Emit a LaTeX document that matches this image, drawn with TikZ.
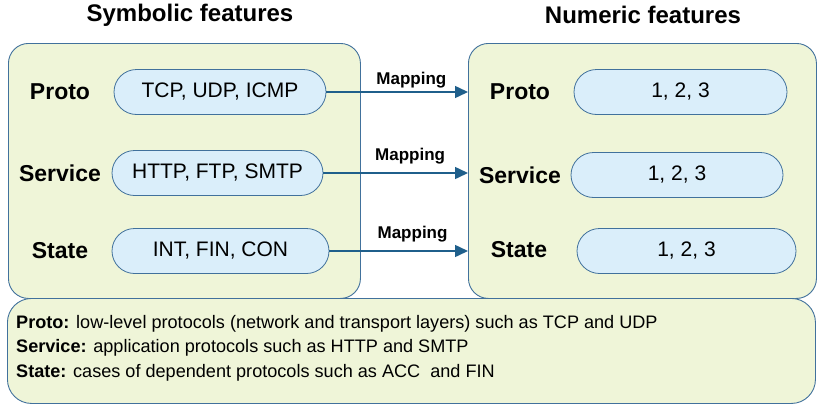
\documentclass[tikz,border=0pt]{standalone}
\usepackage{fontspec}
\setmainfont{Liberation Sans}
\usetikzlibrary{arrows.meta,positioning}
\definecolor{boxfill}{HTML}{EFF5D8}
\definecolor{boxline}{HTML}{41719C}
\definecolor{pillfill}{HTML}{DAEEFA}
\definecolor{arrowcol}{HTML}{1F5F8B}
\tikzset{
  bigbox/.style={draw=boxline, fill=boxfill, line width=0.9pt, rounded corners=20pt},
  pill/.style={draw=boxline, fill=pillfill, line width=0.8pt, rounded corners=22.5pt,
     minimum height=45pt, inner sep=0pt, font=\fontsize{21}{25}\selectfont},
  rowlabel/.style={inner sep=0pt, font=\fontsize{23}{27}\selectfont\bfseries},
  title/.style={inner sep=0pt, font=\fontsize{24}{28}\selectfont\bfseries},
  maplabel/.style={inner sep=0pt, font=\fontsize{17}{20}\selectfont\bfseries},
  maparrow/.style={draw=arrowcol, line width=1.5pt, -{Triangle[length=13pt,width=12pt]}},
}
\begin{document}
\begin{tikzpicture}[x=1pt,y=-1pt]
\useasboundingbox (0,0) rectangle (817,407);
% big boxes
\node[bigbox, minimum width=352pt, minimum height=255pt, anchor=north west] (lbox) at (8,43) {};
\node[bigbox, minimum width=348pt, minimum height=255pt, anchor=north west] (rbox) at (468,43) {};
\node[bigbox, rounded corners=24pt, minimum width=808pt, minimum height=105pt, anchor=north west] (bbox) at (7,298) {};
% titles
\node[title] (tl) at (190,15) {Symbolic features};
\node[title] (tr) at (643,15) {Numeric features};
% left labels
\node[rowlabel] (lproto) at (60,92) {Proto};
\node[rowlabel] (lserv) at (60,173) {Service};
\node[rowlabel] (lstate) at (60,251) {State};
% left pills
\node[pill, minimum width=212pt] (lp1) at (220,92) {TCP, UDP, ICMP};
\node[pill, minimum width=211pt] (lp2) at (217.5,173) {HTTP, FTP, SMTP};
\node[pill, minimum width=217pt] (lp3) at (220.5,251) {INT, FIN, CON};
% right labels
\node[rowlabel] (rproto) at (520,92) {Proto};
\node[rowlabel] (rserv) at (520,175) {Service};
\node[rowlabel] (rstate) at (519,250) {State};
% right pills
\node[pill, minimum width=213pt] (rp1) at (680.5,92) {1, 2, 3};
\node[pill, minimum width=212pt] (rp2) at (677,175) {1, 2, 3};
\node[pill, minimum width=219pt] (rp3) at (686.5,251) {1, 2, 3};
% arrows
\coordinate (e1) at (lp1.east -| rbox.west);
\coordinate (e2) at (lp2.east -| rbox.west);
\coordinate (e3) at (lp3.east -| rbox.west);
\draw[maparrow] (lp1.east) -- (e1) node[maplabel, pos=0.6, above=3pt] (m1) {Mapping};
\draw[maparrow] (lp2.east) -- (e2) node[maplabel, pos=0.6, above=8pt] (m2) {Mapping};
\draw[maparrow] (lp3.east) -- (e3) node[maplabel, pos=0.6, above=8pt] (m3) {Mapping};
% description
\node[anchor=west, align=left, inner sep=0pt, font=\fontsize{18.1}{24.5}\selectfont] (desc) at (16,348)
 {\textbf{Proto:} low-level protocols (network and transport layers) such as TCP and UDP\\
  \textbf{Service:} application protocols such as HTTP and SMTP\\
  \textbf{State:} cases of dependent protocols such as ACC\ \ and FIN};
\end{tikzpicture}
\end{document}
